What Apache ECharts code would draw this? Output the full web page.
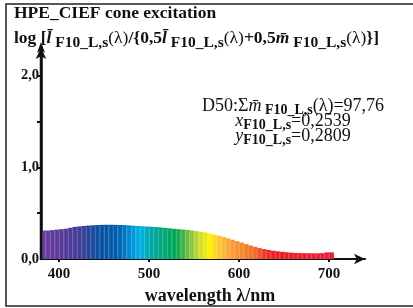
<!DOCTYPE html>
<html>
<head>
<meta charset="utf-8">
<script src="https://cdn.jsdelivr.net/npm/echarts@6/dist/echarts.min.js"></script>
<style>
  html, body { margin: 0; padding: 0; background: #fff; }
  #chart { width: 413px; height: 308px; }
</style>
</head>
<body>
<div id="chart"></div>
<script>
// Spectral bars, 5 nm wide, start wavelength of each bar
var wavelengths = [
  380, 385, 390, 395, 400, 405, 410, 415, 420, 425,
  430, 435, 440, 445, 450, 455, 460, 465, 470, 475,
  480, 485, 490, 495, 500, 505, 510, 515, 520, 525,
  530, 535, 540, 545, 550, 555, 560, 565, 570, 575,
  580, 585, 590, 595, 600, 605, 610, 615, 620, 625,
  630, 635, 640, 645, 650, 655, 660, 665, 670, 675,
  680, 685, 690, 695, 700
];
var excitation = [
  0.310, 0.310, 0.315, 0.320, 0.325, 0.330, 0.340, 0.350, 0.355, 0.360,
  0.364, 0.367, 0.370, 0.372, 0.373, 0.373, 0.372, 0.371, 0.369, 0.366,
  0.363, 0.360, 0.357, 0.354, 0.351, 0.348, 0.344, 0.339, 0.334, 0.329,
  0.325, 0.321, 0.317, 0.311, 0.304, 0.297, 0.289, 0.278, 0.266, 0.254,
  0.240, 0.225, 0.210, 0.195, 0.180, 0.163, 0.147, 0.132, 0.119, 0.108,
  0.099, 0.091, 0.084, 0.078, 0.073, 0.069, 0.066, 0.064, 0.063, 0.062,
  0.062, 0.062, 0.064, 0.072, 0.072
];
var xTicks = [400, 500, 600, 700];
var yTicks = [0.5, 1.0, 1.5, 2.0];
var yLabels = [0.0, 1.0, 2.0];
var X_MIN = 380, X_MAX = 740, Y_MIN = 0, Y_MAX = 2.3;

var BAND = 5;
var SERIF = '"Liberation Serif", "DejaVu Serif", serif';
var INK = '#111';

// wavelength -> colour stops used for the spectrum fill
var COLOR_STOPS = [
  [380, '#6d3a9e'], [405, '#553a9a'], [425, '#3c3e96'], [445, '#0b4fa3'],
  [465, '#005fae'], [480, '#0090d2'], [490, '#00b0ea'], [500, '#00a8b2'],
  [515, '#00a77a'], [530, '#00a651'], [545, '#7ac143'], [555, '#c8d932'],
  [567, '#fff200'], [577, '#fdc82f'], [590, '#f9a13a'], [605, '#f5842a'],
  [618, '#f26b29'], [628, '#ee3a2a'], [640, '#ed1c24'], [690, '#ed1c30'],
  [705, '#ec1a3d']
];

function hexToRgb(h) {
  return [parseInt(h.slice(1, 3), 16), parseInt(h.slice(3, 5), 16), parseInt(h.slice(5, 7), 16)];
}

function colorAt(wl) {
  if (wl <= COLOR_STOPS[0][0]) return COLOR_STOPS[0][1];
  for (var i = 1; i < COLOR_STOPS.length; i++) {
    if (wl <= COLOR_STOPS[i][0]) {
      var a = COLOR_STOPS[i - 1], b = COLOR_STOPS[i];
      var t = (wl - a[0]) / (b[0] - a[0]);
      var ca = hexToRgb(a[1]), cb = hexToRgb(b[1]);
      return 'rgb(' + ca.map(function (c, k) { return Math.round(c + (cb[k] - c) * t); }).join(',') + ')';
    }
  }
  return COLOR_STOPS[COLOR_STOPS.length - 1][1];
}

function renderBar(params, api) {
  var wl = api.value(0), v = api.value(1);
  var p0 = api.coord([wl, 0]);
  var p1 = api.coord([wl + BAND, v]);
  return {
    type: 'group',
    children: [
      {
        type: 'rect',
        shape: { x: p0[0], y: p1[1], width: p1[0] - p0[0] + 0.4, height: p0[1] - p1[1] },
        style: { fill: colorAt(wl + BAND / 2) }
      },
      {
        type: 'line',
        shape: { x1: p0[0] + 0.3, y1: p1[1] + 1, x2: p0[0] + 0.3, y2: p0[1] },
        style: { stroke: 'rgba(255,255,255,0.4)', lineWidth: 0.6 }
      }
    ]
  };
}

// y axis line + arrow head, placed through the axis scale
function renderYAxisLine(params, api) {
  var b = api.coord([api.value(0), Y_MIN]);
  var t = api.coord([api.value(0), api.value(1)]);
  return {
    type: 'group',
    children: [
      {
        type: 'line',
        shape: { x1: b[0], y1: b[1] + 1, x2: t[0], y2: t[1] + 2 },
        style: { stroke: INK, lineWidth: 2.5 }
      },
      {
        type: 'polygon',
        shape: { points: [[t[0], t[1] - 6], [t[0] - 4, t[1] + 5], [t[0], t[1] + 2], [t[0] + 4, t[1] + 5]] },
        style: { fill: INK }
      }
    ]
  };
}

var SUB = '{s| F10_L,s}';
var LAMBDA = '{n|(\u03bb)}';

var chart = echarts.init(document.getElementById('chart'), null, { renderer: 'canvas' });

chart.setOption({
  animation: false,
  grid: { left: 41, right: 48, top: 48, bottom: 49, outerBoundsMode: 'none', containLabel: false },
  title: [
    {
      left: 9, top: -1,
      text: 'HPE_CIEF cone excitation',
      textStyle: { fontFamily: SERIF, fontWeight: 'bold', fontSize: 17.5, color: INK }
    },
    {
      left: 9, top: 21,
      text: '{b|log [}{i|l\u0304}' + SUB + LAMBDA + '{b|/{0,5}{i|l\u0304}' + SUB + LAMBDA +
        '{b|+0,5}{i|m\u0304}' + SUB + LAMBDA + '}]',
      textStyle: {
        fontFamily: SERIF, fontWeight: 'bold', fontSize: 17.5, color: INK,
        rich: {
          b: { fontFamily: SERIF, fontWeight: 'bold', fontSize: 17.5, color: INK },
          i: { fontFamily: SERIF, fontWeight: 'bold', fontStyle: 'italic', fontSize: 17.5, color: INK },
          n: { fontFamily: SERIF, fontWeight: 'normal', fontSize: 17.5, color: INK },
          s: { fontFamily: SERIF, fontWeight: 'bold', fontSize: 15.5, color: INK, padding: [9, 0, 0, 0] }
        }
      }
    },
    {
      left: 288, top: 94, textAlign: 'center',
      text: 'D50:\u03a3{i|m\u0304}{s| F10_L,s}(\u03bb)=97,76\n{i|x}{s|F10_L,s}=0,2539\n{i|y}{s|F10_L,s}=0,2809',
      textStyle: {
        fontFamily: SERIF, fontWeight: 'normal', fontSize: 18, color: INK, lineHeight: 15,
        rich: {
          i: { fontFamily: SERIF, fontStyle: 'italic', fontSize: 18, color: INK },
          s: { fontFamily: SERIF, fontWeight: 'bold', fontSize: 14, color: INK, padding: [8, 0, 0, 0] }
        }
      }
    }
  ],
  graphic: [
    {
      type: 'rect',
      shape: { x: 6, y: 4, width: 410, height: 302 },
      style: { fill: 'none', stroke: '#222', lineWidth: 1.5 }
    }
  ],
  xAxis: {
    type: 'value',
    min: X_MIN,
    max: X_MAX,
    name: 'wavelength \u03bb/nm',
    nameLocation: 'middle',
    nameGap: 28,
    nameTextStyle: { fontFamily: SERIF, fontWeight: 'bold', fontSize: 18, color: INK, padding: [0, 0, 0, 14] },
    axisLine: { symbol: ['none', 'arrow'], symbolSize: [8, 11], lineStyle: { color: INK, width: 2 } },
    axisTick: { customValues: xTicks, length: 3, lineStyle: { color: INK, width: 2 } },
    axisLabel: {
      customValues: xTicks, margin: 8,
      fontFamily: SERIF, fontWeight: 'bold', fontSize: 15, color: INK,
      formatter: function (v) { return String(v); }
    },
    splitLine: { show: false }
  },
  yAxis: {
    type: 'value',
    min: Y_MIN,
    max: Y_MAX,
    axisLine: { show: true, onZero: false, symbol: ['none', 'arrow'], symbolSize: [8, 11], lineStyle: { color: INK, width: 2.5 } },
    axisTick: { customValues: yTicks, length: 4, lineStyle: { color: INK, width: 2 } },
    axisLabel: {
      customValues: yLabels, margin: 2,
      fontFamily: SERIF, fontWeight: 'bold', fontSize: 14.5, color: INK,
      formatter: function (v) { return v.toFixed(1).replace('.', ','); }
    },
    splitLine: { show: false }
  },
  series: [
    {
      type: 'custom',
      renderItem: renderBar,
      clip: true,
      data: wavelengths.map(function (wl, i) { return [wl, excitation[i]]; })
    },
    {
      type: 'custom',
      renderItem: renderYAxisLine,
      clip: false,
      silent: true,
      z: 5,
      data: [[X_MIN, Y_MAX]]
    }
  ]
});
</script>
</body>
</html>
